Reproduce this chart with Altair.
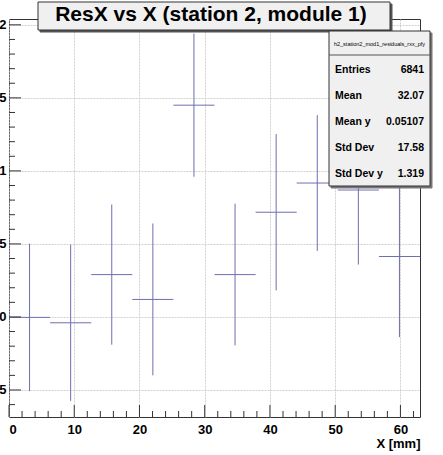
import altair as alt
import pandas as pd

# ---- data ----
bin_lo = [0.0, 6.3, 12.6, 18.9, 25.2, 31.5, 37.8, 44.1, 50.4, 56.7]
bin_hi = [6.3, 12.6, 18.9, 25.2, 31.5, 37.8, 44.1, 50.4, 56.7, 63.0]
bin_center = [3.15, 9.45, 15.75, 22.05, 28.35, 34.65, 40.95, 47.25, 53.55, 59.85]
mean_y = [-0.003, -0.04, 0.29, 0.12, 1.45, 0.29, 0.717, 0.917, 0.869, 0.414]
err_y = [0.505, 0.535, 0.48, 0.52, 0.49, 0.485, 0.535, 0.465, 0.51, 0.552]

x_major = [0, 10, 20, 30, 40, 50, 60]
x_minor = [v for v in range(0, 64, 2) if v % 10 != 0]
y_major = [-0.5, 0, 0.5, 1, 1.5, 2]
y_minor = [round(-0.6 + 0.1 * i, 1) for i in range(27)]
y_minor = [v for v in y_minor if abs(v * 2 - round(v * 2)) > 1e-6]

title_text = "ResX vs X (station 2, module 1)"
stats_name = "h2_station2_mod1_residuals_rxx_pfy"
stats_labels = ["Entries", "Mean", "Mean y", "Std Dev", "Std Dev y"]
stats_values = ["6841", "32.07", "0.05107", "17.58", "1.319"]

W, H = 411, 398
FONT = "Liberation Sans"
BAR = "#6e6eb0"

df = pd.DataFrame({
    "xlo": bin_lo, "xhi": bin_hi, "xc": bin_center, "m": mean_y, "e": err_y,
})
df["lo"] = df["m"] - df["e"]
df["hi"] = df["m"] + df["e"]

xs = alt.Scale(domain=[0, 63], nice=False, zero=False)
ys = alt.Scale(domain=[-0.685, 2.04], nice=False, zero=False)
GRID = dict(grid=True, gridDash=[2, 1], gridColor="#c4c4c4", gridWidth=0.8)
xaxis = alt.Axis(values=x_major, title="X [mm]", ticks=False, domain=False,
                 labelFont=FONT, labelFontWeight="bold", labelFontSize=13,
                 labelColor="black", labelPadding=6,
                 titleFont=FONT, titleFontWeight="bold", titleFontSize=13,
                 titleColor="black", titleAlign="right", titleAnchor="end",
                 titleX=W, titleY=30, titleBaseline="alphabetic", **GRID)
yaxis = alt.Axis(values=y_major, title=None, ticks=False, domain=False, format="~g",
                 labelFont=FONT, labelFontWeight="bold", labelFontSize=13,
                 labelColor="black", labelPadding=3, **GRID)


def X(f):
    return alt.X(f, type="quantitative", scale=xs, axis=xaxis)


def Y(f):
    return alt.Y(f, type="quantitative", scale=ys, axis=yaxis)


base = alt.Chart(df)
vbars = base.mark_rule(color=BAR, strokeWidth=1).encode(x=X("xc"), y=Y("lo"), y2="hi")
hbars = base.mark_rule(color=BAR, strokeWidth=1).encode(x=X("xlo"), x2="xhi", y=Y("m"))

xt_major = alt.Chart(pd.DataFrame({"xc": x_major})).mark_rule(color="#333").encode(
    x=X("xc"), y=alt.value(H), y2=alt.value(H - 12))
xt_minor = alt.Chart(pd.DataFrame({"xc": x_minor})).mark_rule(color="#333").encode(
    x=X("xc"), y=alt.value(H), y2=alt.value(H - 6))
yt_major = alt.Chart(pd.DataFrame({"m": y_major})).mark_rule(color="#333").encode(
    y=Y("m"), x=alt.value(0), x2=alt.value(12))
yt_minor = alt.Chart(pd.DataFrame({"m": y_minor})).mark_rule(color="#333").encode(
    y=Y("m"), x=alt.value(0), x2=alt.value(6))

one = pd.DataFrame({"a": [0]})


def box(x0, x1, y0, y1, fill="#f0f0f0", stroke="#333", sw=1):
    return alt.Chart(one).mark_rect(fill=fill, stroke=stroke, strokeWidth=sw).encode(
        x=alt.value(x0), x2=alt.value(x1), y=alt.value(y0), y2=alt.value(y1))


def text(s, x, y, size, align="left", weight="bold"):
    return alt.Chart(one).mark_text(text=s, font=FONT, fontSize=size, fontWeight=weight,
                                    align=align, baseline="middle", color="black").encode(
        x=alt.value(x), y=alt.value(y))


layers = [vbars, hbars, xt_major, xt_minor, yt_major, yt_minor]

# title box with shadow
layers.append(box(31, 383, -15, 13, fill="#555", stroke="#555"))
layers.append(box(29, 381, -17, 11))
layers.append(text(title_text, 202, -4, 21, align="center"))

# stats box with shadow
layers.append(box(322, 423, 14, 169, fill="#777", stroke="#777"))
layers.append(box(320, 421, 12, 167))
layers.append(alt.Chart(one).mark_rule(color="#555").encode(
    x=alt.value(320), x2=alt.value(421), y=alt.value(36)))
layers.append(text(stats_name, 370.5, 25, 5.5, align="center", weight="normal"))
for i, (lab, val) in enumerate(zip(stats_labels, stats_values)):
    yy = 51 + 26 * i
    layers.append(text(lab, 326, yy, 10.5))
    layers.append(text(val, 415, yy, 10.5, align="right"))

chart = alt.layer(*layers).properties(
    width=W, height=H,
    autosize=alt.AutoSizeParams(type="none"),
    padding={"left": 9, "top": 19, "right": 23, "bottom": 38},
    background="white",
).configure_view(stroke="#333", strokeWidth=1)

chart.save("out.html", embed_options={"renderer": "svg", "actions": False})
